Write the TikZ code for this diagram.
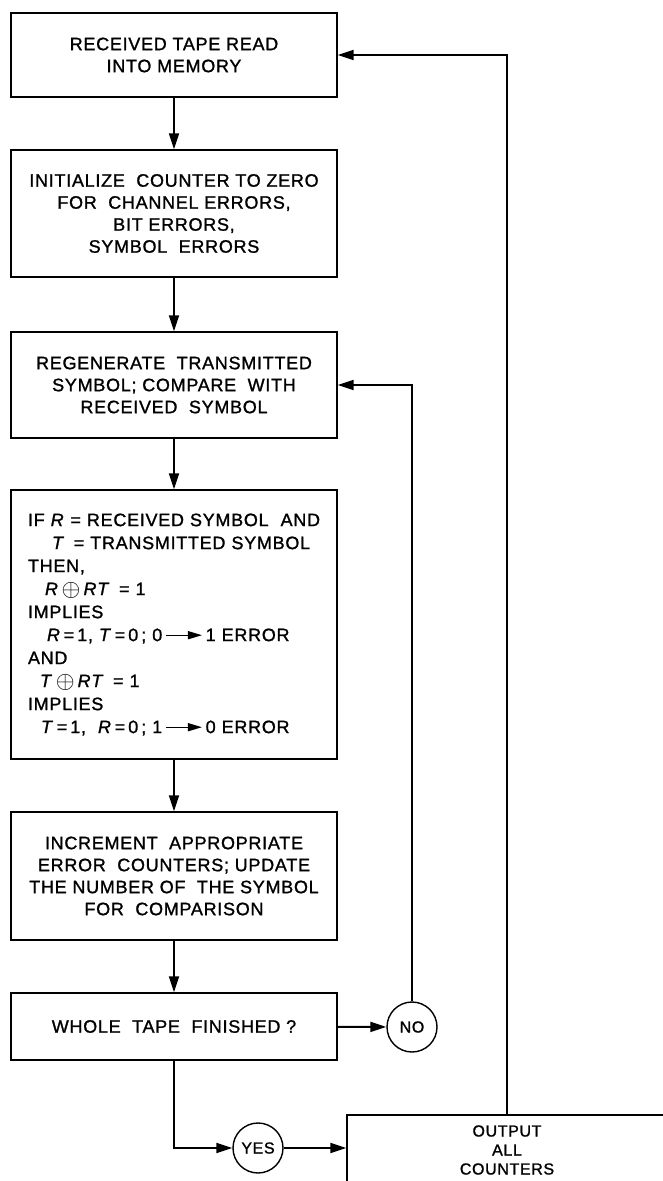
\documentclass[tikz,border=0pt]{standalone}
\usepackage{fontspec}
\setmainfont{Liberation Sans}[LetterSpace=4.0, FakeBold=1.2]
\usetikzlibrary{arrows.meta}
\newcommand{\xr}{\textit{R}}
\newcommand{\xt}{\textit{T}}
\newcommand{\cplus}{\raisebox{-0.08em}{\scalebox{1.4}{$\oplus$}}}
\newcommand{\tarrow}{\tikz[baseline=-0.33em]\draw[line width=1.4pt,-{Triangle[length=14pt,width=8pt]}] (0pt,0pt) -- (36pt,0pt);}
\begin{document}
\begin{tikzpicture}[x=1pt,y=-1pt,
  box/.style={draw, line width=1.4pt, minimum width=326pt, inner sep=0pt, align=center, font=\fontsize{18}{22}\selectfont},
  conn/.style={line width=2pt, -{Triangle[length=16pt,width=10pt]}},
  ring/.style={draw, circle, line width=1.4pt, minimum size=50pt, inner sep=0pt, font=\fontsize{16}{16}\selectfont}]
\clip (0,0) rectangle (663,1181);
\fill[white] (0,0) rectangle (663,1181);

\node[box, minimum height=84pt] (b1) at (174,55) {RECEIVED TAPE READ\\INTO MEMORY};
\node[box, minimum height=127pt] (b2) at (174,213.5) {INITIALIZE \ COUNTER TO ZERO\\FOR \ CHANNEL ERRORS,\\BIT ERRORS,\\SYMBOL \ ERRORS};
\node[box, minimum height=106pt] (b3) at (174,385) {REGENERATE \ TRANSMITTED\\SYMBOL; COMPARE \ WITH\\RECEIVED \ SYMBOL};
\node[box, minimum height=269pt, align=left, text width=300pt, inner xsep=13pt, font=\fontsize{18}{23}\selectfont] (b4) at (174,624.5)
 {\hspace*{4pt}IF \xr{} = RECEIVED SYMBOL \ AND\\
  \hspace*{28pt}\xt{} \,= TRANSMITTED SYMBOL\\
  \hspace*{4pt}THEN,\\
  \hspace*{21pt}\xr\,\cplus\,\xr\xt{} \,= 1\\
  \hspace*{4pt}IMPLIES\\
  \hspace*{23pt}\xr\,=\,1, \xt\,=\,0\,; 0\,\tarrow\,1 ERROR\\
  \hspace*{4pt}AND\\
  \hspace*{16pt}\xt\,\cplus\,\xr\xt{} \,= 1\\
  \hspace*{4pt}IMPLIES\\
  \hspace*{17pt}\xt\,=\,1, \ \xr\,=\,0\,; 1\,\tarrow\,0 ERROR};
\node[box, minimum height=128pt] (b5) at (174,876) {INCREMENT \ APPROPRIATE\\ERROR \ COUNTERS; UPDATE\\THE NUMBER OF \ THE SYMBOL\\FOR \ COMPARISON};
\node[box, minimum height=67pt] (b6) at (174,1026.5) {WHOLE \ TAPE \ FINISHED ?};
\node[ring] (yes) at (258,1148) {YES};
\node[ring] (no) at (412,1027) {NO};
\node[box, minimum width=320pt, minimum height=70pt, font=\fontsize{16}{19}\selectfont] (out) at (507,1150) {OUTPUT\\ALL\\COUNTERS};

\draw[conn] (b1) -- (b2);
\draw[conn] (b2) -- (b3);
\draw[conn] (b3) -- (b4);
\draw[conn] (b4) -- (b5);
\draw[conn] (b5) -- (b6);
\draw[conn] (b6) -- (no);
\draw[conn] (no.north) |- (b3.east);
\draw[conn] (b6.south) |- (yes.west);
\draw[conn] (yes.east) -- (yes.east -| out.west);
\draw[conn] (out.north) |- (b1.east);
\end{tikzpicture}
\end{document}
